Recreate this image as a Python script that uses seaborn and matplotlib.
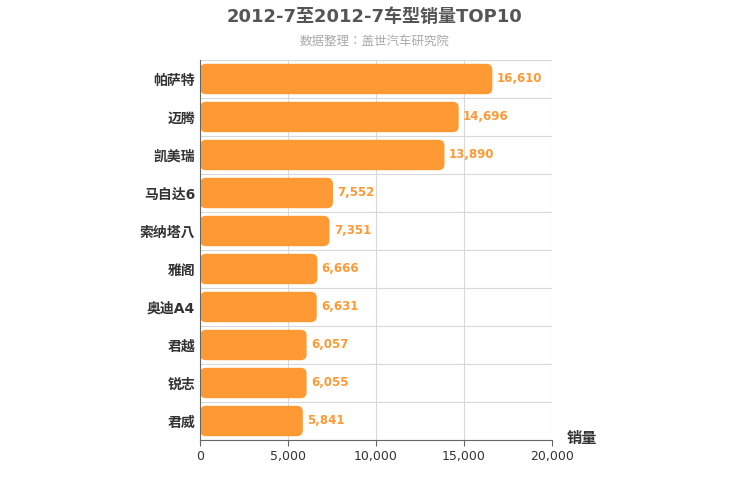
import matplotlib
matplotlib.use("Agg")
import matplotlib.pyplot as plt
from matplotlib import font_manager as fm
from matplotlib.patches import FancyBboxPatch
import seaborn as sns
import pandas as pd

# make sure a sans CJK font is registered
cjk = None
for f in sorted(fm.findSystemFonts()):
    if "SansCJK" in f.replace(" ", "") or ("CJK" in f and "Sans" in f):
        fm.fontManager.addfont(f)
        if cjk is None:
            cjk = fm.FontProperties(fname=f).get_name()
plt.rcParams["font.family"] = ["DejaVu Sans", cjk or "Noto Sans CJK SC"]

models = ["帕萨特", "迈腾", "凯美瑞", "马自达6", "索纳塔八", "雅阁", "奥迪A4", "君越", "锐志", "君威"]
sales = [16610, 14696, 13890, 7552, 7351, 6666, 6631, 6057, 6055, 5841]
xticks = [0, 5000, 10000, 15000, 20000]

df = pd.DataFrame({"model": models, "sales": sales})
orange = "#ff9933"

fig = plt.figure(figsize=(7.5, 5), dpi=100)
ax = fig.add_axes([0.2667, 0.12, 0.4693, 0.76])
sns.barplot(data=df, x="sales", y="model", color=orange, width=0.8, ax=ax, zorder=2)

# swap square bars for rounded ones
for p in list(ax.patches):
    x0, y0, w, h = p.get_x(), p.get_y(), p.get_width(), p.get_height()
    p.remove()
    ax.add_patch(FancyBboxPatch((x0, y0), w, h,
                                boxstyle="round,pad=0,rounding_size=340",
                                mutation_aspect=0.000463,
                                facecolor=orange, edgecolor="none", zorder=2))

for i, v in enumerate(sales):
    ax.text(v + 250, i, f"{v:,}", va="center", ha="left", color=orange,
            fontsize=8.5, fontweight="bold")

ax.set_xlim(0, 20000)
ax.set_ylim(len(models) - 0.5, -0.5)
ax.set_xticks(xticks)
ax.set_xticklabels([f"{t:,}" for t in xticks], fontsize=9, color="#333333")
ax.set_yticks(range(len(models)))
ax.set_yticklabels(models, fontsize=10, fontweight="bold", color="#333333")
ax.set_yticks([i + 0.5 for i in range(-1, len(models))], minor=True)
ax.grid(axis="x", color="#d8d8d8", lw=0.8, zorder=0)
ax.grid(axis="y", which="minor", color="#d8d8d8", lw=0.8, zorder=0)
ax.tick_params(axis="y", which="both", length=0)
ax.tick_params(axis="x", length=4, color="#666666")
ax.set_xlabel("")
ax.set_ylabel("")
for s in ["top", "right"]:
    ax.spines[s].set_visible(False)
ax.spines["left"].set_color("#666666")
ax.spines["bottom"].set_color("#666666")

fig.text(0.5, 0.965, "2012-7至2012-7车型销量TOP10", ha="center", va="center",
         fontsize=13, fontweight="bold", color="#555555")
fig.text(0.5, 0.918, "数据整理：盖世汽车研究院", ha="center", va="center",
         fontsize=9, color="#aaaaaa")
fig.text(0.755, 0.122, "销量", ha="left", va="center", fontsize=11,
         fontweight="bold", color="#333333")

fig.savefig("out.png", dpi=100)
